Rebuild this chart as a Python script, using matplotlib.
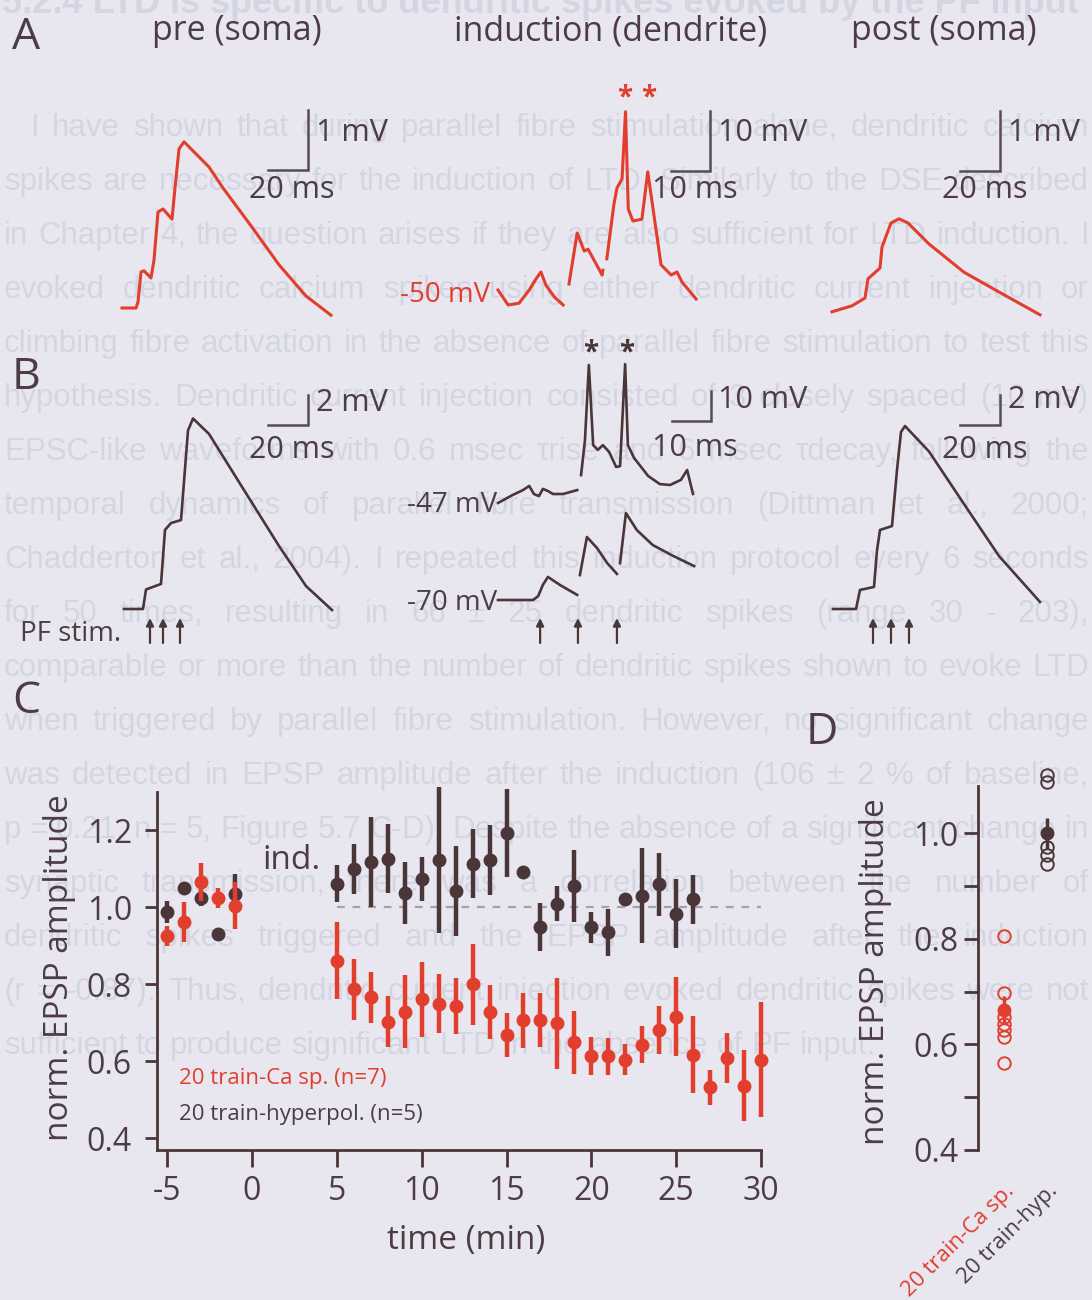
import matplotlib
matplotlib.use("Agg")
import numpy as np
import matplotlib.pyplot as plt
from matplotlib.transforms import blended_transform_factory

# ---------------- data ----------------
# panel A traces: time (ms) and voltage (mV, relative to baseline)
a_pre_t = [0, 7, 8, 9.5, 11, 14.5, 16, 18, 20.5, 25, 26.5, 28.5, 31, 43.5, 50.5, 64.5, 78.5, 92, 104.5]
a_pre_v = [0, 0, 0.1, 0.6, 0.62, 0.5, 0.8, 1.6, 1.65, 1.48, 2.0, 2.65, 2.77, 2.35, 2.0, 1.37, 0.72, 0.2, -0.12]

a_ind_t = [[0, 2.6, 5.4, 8, 9.7, 11, 12.3, 14.5, 16.7],
           [18.2, 20.3, 22.1, 23.1, 26.7, 26.9],
           [27.9, 29.7, 30.5, 31.8, 32.7, 33.4, 34.6, 36.9, 38.4, 39.5, 41.8, 44.4, 45.9, 47.2, 50.8]]
a_ind_v = [[0, -2.5, -2.2, 0, 1.8, 3.0, 0.8, -1.2, -2.5],
           [1.0, 9.5, 6.5, 6.8, 2.5, 3.3],
           [5.2, 14.2, 17.0, 18.5, 29.7, 13.5, 11.5, 11.8, 19.7, 14.7, 4.2, 2.5, 3.0, 1.3, -1.5]]
a_ind_spikes = [32.6, 38.7]

a_post_t = [0, 10, 16.5, 18, 24, 25, 29.5, 33.5, 38, 48.5, 66, 83.5, 104]
a_post_v = [-0.03, 0.07, 0.2, 0.52, 0.7, 1.05, 1.45, 1.52, 1.45, 1.1, 0.63, 0.3, -0.08]

# panel B traces
b_pre_t = [0, 9.5, 11, 18.5, 20.5, 23.5, 28.5, 32, 34.5, 42.5, 60, 77.5, 91, 104]
b_pre_v = [0, 0, 1.3, 1.67, 5.27, 5.73, 5.93, 11.9, 12.7, 11.67, 7.93, 4.2, 1.53, -0.07]
b_pre_stim = [13, 19.5, 28]

b_top_t = [[0, 3.8, 6.4, 8, 9.2, 10.5, 11.5, 12.8, 14.1, 16.7, 20.3],
           [21.3, 22.3, 23.3, 24.4, 25.6, 26.9, 28.5, 30.3, 31.3, 32.6, 33.3, 34.9, 38.5, 41.5, 44.1, 46.9, 48.5, 50]]
b_top_v = [[0, 2.7, 4.3, 5.7, 3.0, 2.3, 4.7, 4.0, 3.0, 3.0, 4.3],
           [9.3, 21, 46, 19.3, 17.7, 19.3, 17, 12, 12.3, 46.3, 19.3, 15, 9, 6.3, 6, 7.7, 11, 3]]
b_bot_t = [[0, 9, 10.3, 11.5, 12.8, 15.9, 20.3],
           [21.0, 22.8, 25.4, 28, 30.5],
           [31.3, 32.8, 35.6, 39.7, 44.9, 50.3]]
b_bot_v = [[0, 0, 1.3, 5, 7.7, 5, 1.7],
           [8.3, 21, 17.3, 12.3, 8.7],
           [12.3, 29, 23.3, 18.3, 14.7, 11.3]]
b_ind_spikes = [23.8, 33.1]
b_ind_stim = [10.8, 20.5, 30.5]

b_post_t = [0, 11.5, 13.5, 20.5, 22, 23.5, 29.5, 32, 34, 36, 48, 65.5, 83, 103.5]
b_post_v = [0, 0, 1.27, 1.47, 3.9, 5.27, 5.53, 9.27, 11.8, 12.2, 10.5, 7, 3.53, 0.47]
b_post_stim = [20, 29, 38]

# panel C: normalised EPSP amplitude over time
pre_t = [-5, -4, -3, -2, -1]
ca_pre = [0.926, 0.961, 1.065, 1.024, 1.004]
ca_pre_err = [0.026, 0.052, 0.05, 0.026, 0.06]
hyp_pre = [0.987, 1.05, 1.024, 0.93, 1.035]
hyp_pre_err = [0.028, 0.008, 0.02, 0.017, 0.05]

ca_post_t = list(range(5, 31))
ca_post = [0.86, 0.786, 0.766, 0.702, 0.728, 0.76, 0.749, 0.743, 0.80, 0.728, 0.668, 0.706, 0.706,
           0.698, 0.649, 0.613, 0.613, 0.604, 0.643, 0.681, 0.715, 0.617, 0.532, 0.607, 0.536, 0.604]
ca_post_err = [0.1, 0.08, 0.066, 0.066, 0.095, 0.097, 0.077, 0.072, 0.105, 0.07, 0.058, 0.072, 0.07,
               0.118, 0.082, 0.049, 0.048, 0.04, 0.049, 0.062, 0.103, 0.1, 0.045, 0.065, 0.092, 0.149]

hyp_post_t = list(range(5, 27))
hyp_post = [1.061, 1.10, 1.117, 1.126, 1.037, 1.074, 1.122, 1.043, 1.113, 1.122, 1.193, 1.091,
            0.948, 1.009, 1.054, 0.948, 0.935, 1.022, 1.03, 1.059, 0.983, 1.02]
hyp_post_err = [0.048, 0.065, 0.117, 0.089, 0.08, 0.057, 0.19, 0.117, 0.09, 0.091, 0.114, 0.008,
                0.063, 0.045, 0.094, 0.04, 0.061, 0.008, 0.124, 0.081, 0.09, 0.063]

# panel D: single cells and mean +- sem
d_groups = ["20 train-Ca sp.", "20 train-hyp."]
d_ca_cells = [0.805, 0.697, 0.653, 0.639, 0.627, 0.615, 0.565]
d_hyp_cells = [1.111, 1.097, 0.974, 0.959, 0.943]
d_mean = [0.665, 1.0]
d_sem = [0.026, 0.03]

# faint text showing through from the page
page_title = "5.2.4 LTD is specific to dendritic spikes evoked by the PF input"
page_lines = [
    "I have shown that during parallel fibre stimulation alone, dendritic calcium",
    "spikes are necessary for the induction of LTD. Similarly to the DSE described",
    "in Chapter 4, the question arises if they are also sufficient for LTD induction. I",
    "evoked dendritic calcium spikes using either dendritic current injection or",
    "climbing fibre activation in the absence of parallel fibre stimulation to test this",
    "hypothesis. Dendritic current injection consisted of 3 closely spaced (10 ms)",
    "EPSC-like waveforms with 0.6 msec τrise and 6 msec τdecay, following the",
    "temporal dynamics of parallel fibre transmission (Dittman et al., 2000;",
    "Chadderton et al., 2004). I repeated this induction protocol every 6 seconds",
    "for 50 times, resulting in 66 ± 25 dendritic spikes (range 30 - 203),",
    "comparable or more than the number of dendritic spikes shown to evoke LTD",
    "when triggered by parallel fibre stimulation. However, no significant change",
    "was detected in EPSP amplitude after the induction (106 ± 2 % of baseline,",
    "p = 0.21, n = 5, Figure 5.7 C-D). Despite the absence of a significant change in",
    "synaptic transmission, there was a correlation between the number of",
    "dendritic spikes triggered and the EPSP amplitude after the induction",
    "(r = -0.87). Thus, dendritic current injection evoked dendritic spikes were not",
    "sufficient to produce significant LTD in the absence of PF input.",
]

# ---------------- style ----------------
BG = "#e8e7ef"
RED = "#e23e2e"
DARK = "#4a3539"
TXT = "#4d3c45"
BAR = "#5a4a51"
GHOST = "#d3d6e2"

plt.rcParams["font.family"] = ["Open Sans", "DejaVu Sans"]
plt.rcParams["axes.unicode_minus"] = False

W, H = 1092, 1300
fig = plt.figure(figsize=(W / 100, H / 100), dpi=100, facecolor=BG)


def fx(x):
    return x / W


def fy(y):
    return 1 - y / H


# faint page text, justified
renderer = fig.canvas.get_renderer()
fig.text(fx(2), fy(13), page_title, fontsize=26, fontweight="bold", family="Liberation Sans",
         color=GHOST, va="baseline", zorder=-5)
for i, line in enumerate(page_lines):
    y = 128 + 54 * i
    left = 30 if i == 0 else 4
    words = line.split(" ")
    arts = [fig.text(0, fy(y), w, fontsize=22.5, family="Liberation Sans", color=GHOST,
                     va="center", zorder=-5) for w in words]
    widths = [a.get_window_extent(renderer).width for a in arts]
    if i < len(page_lines) - 1:
        gap = max((1089 - left - sum(widths)) / (len(words) - 1), 5)
    else:
        gap = 8.5
    x = left
    for a, w in zip(arts, widths):
        a.set_x(fx(x))
        x += w + gap


def trace_ax(box, x0, y0, px_ms, px_mv):
    l, t, r, b = box
    ax = fig.add_axes([l / W, 1 - b / H, (r - l) / W, (b - t) / H])
    ax.set_xlim((l - x0) / px_ms, (r - x0) / px_ms)
    ax.set_ylim((y0 - b) / px_mv, (y0 - t) / px_mv)
    ax.set_axis_off()
    ax.patch.set_alpha(0)
    return ax


def scale_bar(ax, t_end, v_base, dt, dv):
    ax.plot([t_end - dt, t_end, t_end], [v_base, v_base, v_base + dv], color=BAR, lw=1.8,
            solid_joinstyle="miter", clip_on=False)


def stim_arrows(ax, times):
    tr = blended_transform_factory(ax.transData, fig.transFigure)
    for t in times:
        ax.annotate("", xy=(t, fy(618)), xytext=(t, fy(643)), xycoords=tr, textcoords=tr,
                    arrowprops=dict(arrowstyle="-|>", lw=1.6, color=DARK, shrinkA=0, shrinkB=0,
                                    mutation_scale=11), annotation_clip=False)


def stars(ax, times, y, color):
    tr = blended_transform_factory(ax.transData, fig.transFigure)
    for t in times:
        ax.text(t, fy(y), "*", transform=tr, ha="center", va="center", fontsize=20,
                color=color, fontweight="bold")


# ---------------- panel A ----------------
axA1 = trace_ax((100, 60, 360, 340), 122, 308, 2.0, 60)
axA1.plot(a_pre_t, a_pre_v, color=RED, lw=2.2, clip_on=False)
scale_bar(axA1, 93, 2.3, 20, 1)

axA2 = trace_ax((490, 60, 730, 340), 498, 290, 3.9, 6)
for t, v in zip(a_ind_t, a_ind_v):
    axA2.plot(t, v, color=RED, lw=2.2, clip_on=False)
scale_bar(axA2, 54.4, 19.8, 10, 10)
stars(axA2, a_ind_spikes, 98, RED)

axA3 = trace_ax((820, 60, 1060, 340), 832, 310, 2.0, 60)
axA3.plot(a_post_t, a_post_v, color=RED, lw=2.2, clip_on=False)
scale_bar(axA3, 84, 2.32, 20, 1)

# ---------------- panel B ----------------
axB1 = trace_ax((100, 340, 360, 660), 124, 609, 2.0, 15)
axB1.plot(b_pre_t, b_pre_v, color=DARK, lw=1.9, clip_on=False)
scale_bar(axB1, 92, 12.3, 20, 2)
stim_arrows(axB1, b_pre_stim)

axB2 = trace_ax((490, 340, 730, 660), 498, 503, 3.9, 3)
for t, v in zip(b_top_t, b_top_v):
    axB2.plot(t, v, color=DARK, lw=1.9, clip_on=False)
scale_bar(axB2, 54.6, 27.3, 10, 10)
stars(axB2, b_ind_spikes, 353, DARK)

axB3 = trace_ax((490, 340, 730, 660), 498, 600, 3.9, 3)
for t, v in zip(b_bot_t, b_bot_v):
    axB3.plot(t, v, color=DARK, lw=1.9, clip_on=False)
stim_arrows(axB3, b_ind_stim)

axB4 = trace_ax((820, 340, 1060, 660), 833, 609, 2.0, 15)
axB4.plot(b_post_t, b_post_v, color=DARK, lw=1.9, clip_on=False)
scale_bar(axB4, 83.5, 12.3, 20, 2)
stim_arrows(axB4, b_post_stim)

# ---------------- text for A and B ----------------
for letter, x, y in [("A", 12, 38), ("B", 12, 378), ("C", 12, 702), ("D", 806, 733)]:
    fig.text(fx(x), fy(y), letter, fontsize=32, color=TXT, va="center", ha="left")
for title, x in [("pre (soma)", 237), ("induction (dendrite)", 611), ("post (soma)", 944)]:
    fig.text(fx(x), fy(31), title, fontsize=24.5, color=TXT, ha="center", va="center")

for lab, x, y in [("1 mV", 316, 133), ("10 mV", 718, 133), ("1 mV", 1008, 133),
                  ("2 mV", 316, 403), ("10 mV", 718, 400), ("2 mV", 1008, 400)]:
    fig.text(fx(x), fy(y), lab, fontsize=22, color=TXT, ha="left", va="center")
for lab, x, y in [("20 ms", 292, 190), ("10 ms", 695, 190), ("20 ms", 985, 190),
                  ("20 ms", 292, 450), ("10 ms", 695, 448), ("20 ms", 985, 450)]:
    fig.text(fx(x), fy(y), lab, fontsize=22, color=TXT, ha="center", va="center")

fig.text(fx(490), fy(295), "-50 mV", fontsize=20, color=RED, ha="right", va="center")
fig.text(fx(497), fy(505), "-47 mV", fontsize=20, color=TXT, ha="right", va="center")
fig.text(fx(497), fy(603), "-70 mV", fontsize=20, color=TXT, ha="right", va="center")
fig.text(fx(20), fy(634), "PF stim.", fontsize=20, color=TXT, ha="left", va="center")

# ---------------- panel C ----------------
axC = fig.add_axes([fx(157), fy(1150), (761 - 157) / W, (1150 - 792) / H])
axC.patch.set_alpha(0)
axC.plot([5, 30], [1, 1], ls=(0, (3.5, 3.5)), color="#a3a1ab", lw=1.6, zorder=1)
eb = dict(fmt="o", ms=9, elinewidth=3.2, capsize=0, clip_on=False)
axC.errorbar(pre_t, hyp_pre, yerr=hyp_pre_err, color=DARK, zorder=3, **eb)
axC.errorbar(pre_t, ca_pre, yerr=ca_pre_err, color=RED, zorder=4, **eb)
axC.errorbar(hyp_post_t, hyp_post, yerr=hyp_post_err, color=DARK, zorder=3, **eb)
axC.errorbar(ca_post_t, ca_post, yerr=ca_post_err, color=RED, zorder=4, **eb)
axC.set_xlim(-5.6, 30)
axC.set_ylim(0.369, 1.299)
axC.set_xticks([-5, 0, 5, 10, 15, 20, 25, 30])
axC.set_yticks([0.4, 0.6, 0.8, 1.0, 1.2])
axC.set_yticklabels(["0.4", "0.6", "0.8", "1.0", "1.2"])
for s in ["top", "right"]:
    axC.spines[s].set_visible(False)
for s in ["left", "bottom"]:
    axC.spines[s].set_linewidth(2)
    axC.spines[s].set_color(DARK)
axC.tick_params(axis="y", direction="out", length=9, width=2, color=DARK, labelsize=23,
                labelcolor=TXT, pad=9)
axC.tick_params(axis="x", direction="out", length=12, width=2, color=DARK, labelsize=23,
                labelcolor=TXT, pad=6)
axC.text(0.6, 1.12, "ind.", fontsize=24, color=TXT, va="center", ha="left")
axC.text(-4.3, 0.555, "20 train-Ca sp. (n=7)", fontsize=16, color=RED, va="center")
axC.text(-4.3, 0.46, "20 train-hyperpol. (n=5)", fontsize=16, color=TXT, va="center")
fig.text(fx(60), fy(968), "norm. EPSP amplitude", rotation=90, fontsize=24, color=TXT,
         ha="center", va="center")
fig.text(fx(466), fy(1240), "time (min)", fontsize=24, color=TXT, ha="center", va="center")

# ---------------- panel D ----------------
axD = fig.add_axes([fx(978), fy(1150), 95 / W, (1150 - 786) / H])
axD.patch.set_alpha(0)
axD.plot(np.zeros(len(d_ca_cells)), d_ca_cells, "o", mfc="none", mec=RED, ms=9, mew=1.4,
         clip_on=False)
axD.plot(np.ones(len(d_hyp_cells)), d_hyp_cells, "o", mfc="none", mec=DARK, ms=9, mew=1.4,
         clip_on=False)
for i, c in enumerate([RED, DARK]):
    axD.errorbar(i, d_mean[i], yerr=d_sem[i], fmt="o", ms=9, color=c, elinewidth=2.5,
                 capsize=0, zorder=4)
axD.set_xlim(-0.6, 1.6)
axD.set_ylim(0.4, 1.09)
axD.set_yticks([0.4, 0.6, 0.8, 1.0])
axD.set_yticklabels(["0.4", "0.6", "0.8", "1.0"])
axD.set_yticks([0.5, 0.7, 0.9], minor=True)
for s in ["top", "right", "bottom"]:
    axD.spines[s].set_visible(False)
axD.spines["left"].set_linewidth(2)
axD.spines["left"].set_color(DARK)
axD.tick_params(axis="y", which="both", direction="out", length=10, width=2, color=DARK,
                labelsize=23, labelcolor=TXT, pad=4)
axD.set_xticks([0, 1])
axD.set_xticklabels(d_groups, rotation=45, ha="right", rotation_mode="anchor", fontsize=16)
axD.tick_params(axis="x", length=0, pad=22)
for lab, c in zip(axD.get_xticklabels(), [RED, TXT]):
    lab.set_color(c)
fig.text(fx(875), fy(972), "norm. EPSP amplitude", rotation=90, fontsize=24, color=TXT,
         ha="center", va="center")

fig.savefig("out.png", dpi=100, facecolor=BG)
